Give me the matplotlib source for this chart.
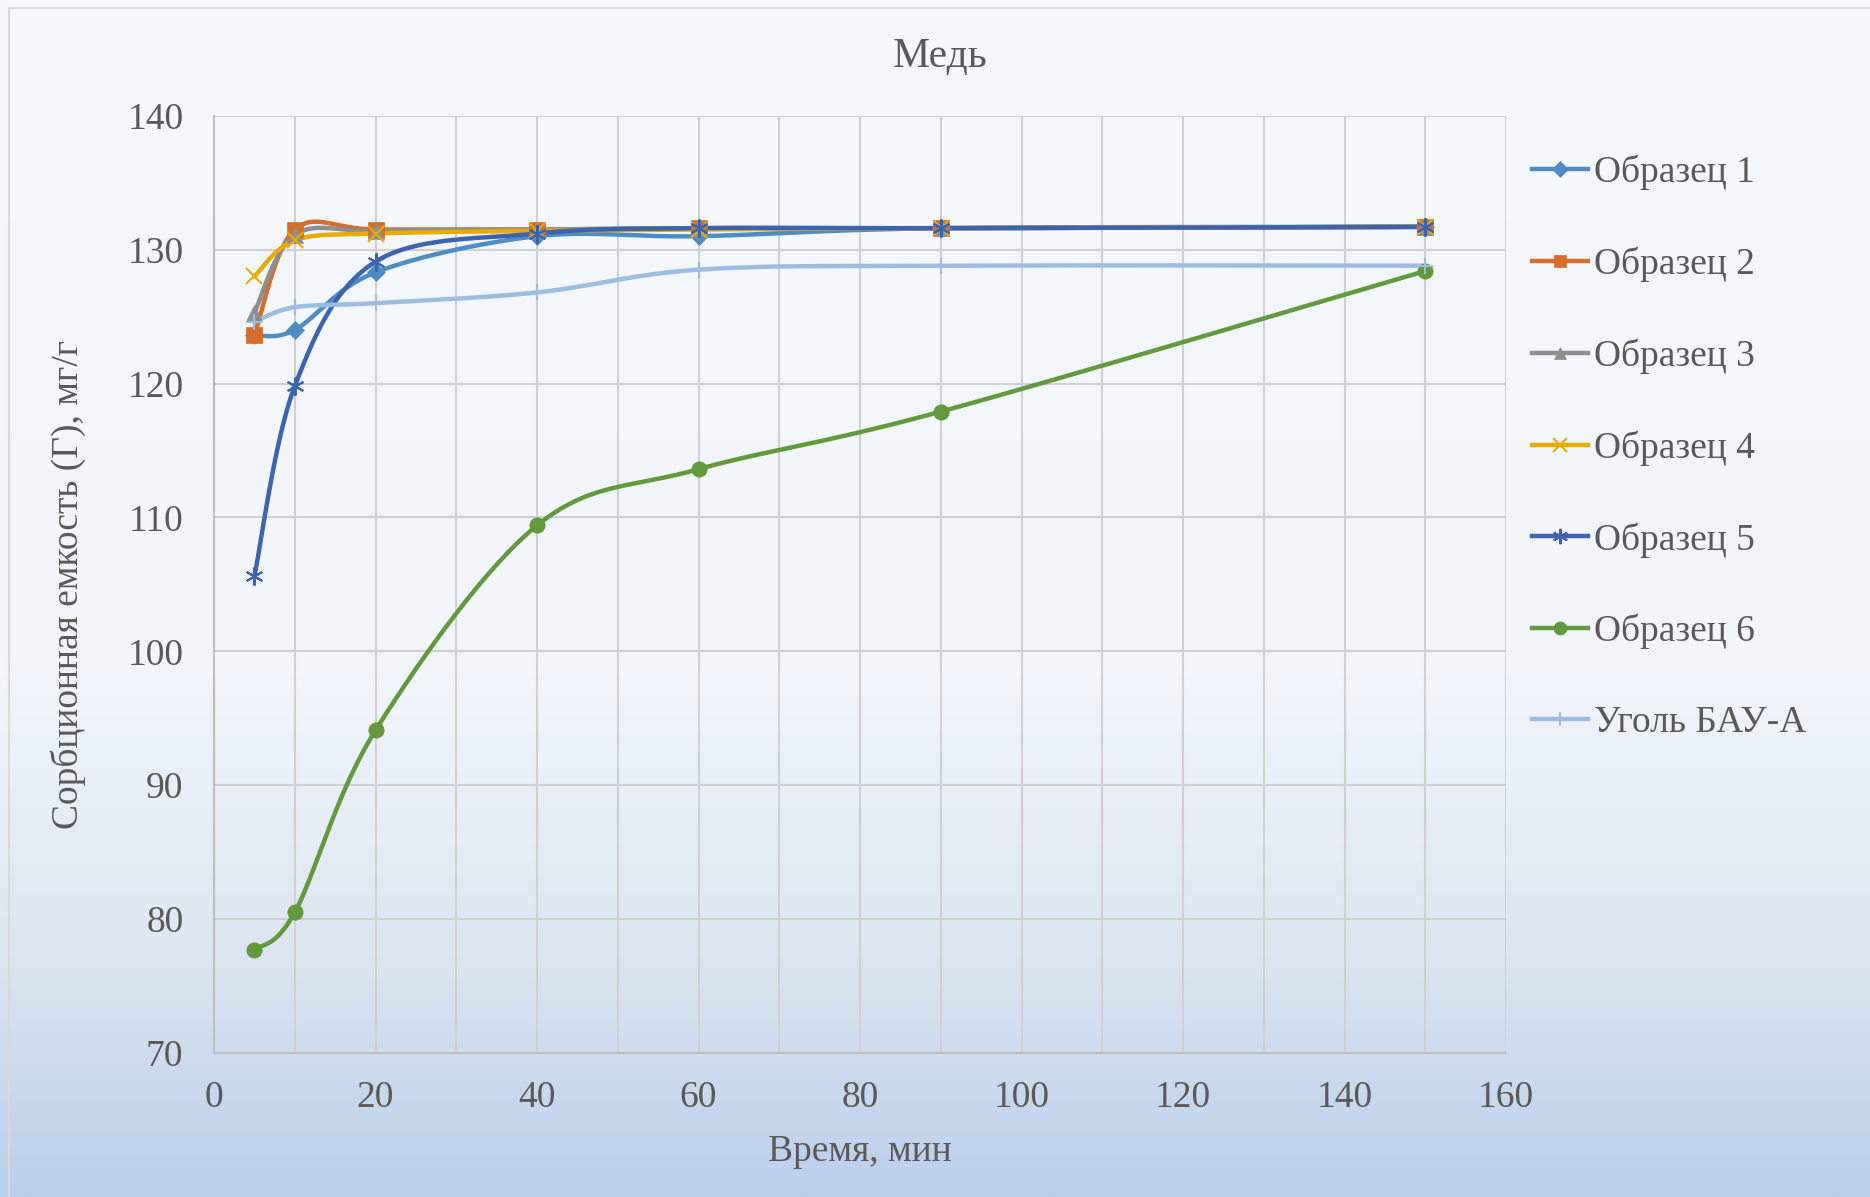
import matplotlib.pyplot as plt
import numpy as np
from matplotlib.patches import Rectangle
from matplotlib.lines import Line2D

# data
time_min = [5, 10, 20, 40, 60, 90, 150]
obr1 = [123.6, 124.0, 128.3, 131.0, 131.0, 131.6, 131.7]
obr2 = [123.6, 131.5, 131.5, 131.5, 131.6, 131.6, 131.7]
obr3 = [125.3, 131.1, 131.4, 131.5, 131.6, 131.6, 131.7]
obr4 = [128.0, 130.7, 131.2, 131.4, 131.5, 131.6, 131.7]
obr5 = [105.6, 119.8, 129.1, 131.2, 131.6, 131.6, 131.7]
obr6 = [77.7, 80.5, 94.1, 109.4, 113.6, 117.9, 128.4]
bau_a = [124.6, 125.7, 126.0, 126.8, 128.5, 128.8, 128.8]

labels = ['Образец 1', 'Образец 2', 'Образец 3', 'Образец 4',
          'Образец 5', 'Образец 6', 'Уголь БАУ-А']
series = [obr1, obr2, obr3, obr4, obr5, obr6, bau_a]
colors = ['#4e8cc4', '#d86c2a', '#8e8e8e', '#e6ac00', '#3a64b0', '#62993b', '#9bbde3']
markers = ['D', 's', '^', 'x', (6, 2, 0), 'o', '+']
msizes = [9, 11, 11, 12, 13, 11, 12]

W, H = 1870, 1197
plt.rcParams['font.family'] = ['Liberation Serif', 'DejaVu Serif']
txt = '#595959'

fig = plt.figure(figsize=(W / 100, H / 100), dpi=100)

# gradient background
bg = fig.add_axes([0, 0, 1, 1])
bg.set_zorder(0)
stops = [(0.0, (245, 249, 252)), (0.55, (242, 246, 251)),
         (0.8, (220, 230, 242)), (1.0, (184, 207, 233))]
yy = np.linspace(0, 1, 400)
grad = np.zeros((400, 1, 3))
for c in range(3):
    grad[:, 0, c] = np.interp(yy, [s[0] for s in stops], [s[1][c] for s in stops]) / 255
bg.imshow(grad, aspect='auto', extent=[0, 1, 0, 1], origin='upper')
bg.add_patch(Rectangle((9 / W, -0.1), 1.2, 1.1 - 8 / H, fill=False,
                       edgecolor='#d9d9d9', lw=1.5, clip_on=False))
bg.set_xlim(0, 1)
bg.set_ylim(0, 1)
bg.axis('off')

# plot area
L, R, T, B = 214, 1506, 115.7, 1053
ax = fig.add_axes([L / W, 1 - B / H, (R - L) / W, (B - T) / H])
ax.set_zorder(1)
ax.patch.set_alpha(0)
ax.set_xlim(0, 160)
ax.set_ylim(70, 140)

sx = (R - L) / 160
sy = (B - T) / 70


def smooth(x, y, n=60):
    # excel-like smoothed line (bezier, tension 1/6) in pixel space
    p = np.column_stack([np.asarray(x) * sx, np.asarray(y) * sy])
    out = []
    for i in range(len(p) - 1):
        p0 = p[i - 1] if i > 0 else p[i]
        p1, p2 = p[i], p[i + 1]
        p3 = p[i + 2] if i + 2 < len(p) else p[i + 1]
        c1 = p1 + (p2 - p0) / 6
        c2 = p2 - (p3 - p1) / 6
        t = np.linspace(0, 1, n)[:, None]
        seg = ((1 - t) ** 3) * p1 + 3 * ((1 - t) ** 2) * t * c1 + 3 * (1 - t) * t ** 2 * c2 + t ** 3 * p2
        out.append(seg if i == 0 else seg[1:])
    out = np.vstack(out)
    return out[:, 0] / sx, out[:, 1] / sy


handles = []
for vals, lab, col, mk, ms in zip(series, labels, colors, markers, msizes):
    xs, ys = smooth(time_min, vals)
    ax.plot(xs, ys, color=col, lw=3.2, solid_capstyle='round', zorder=3)
    mew = 1.5 if mk in ('x', '+') or isinstance(mk, tuple) else 0.5
    ax.plot(time_min, vals, linestyle='none', marker=mk, markersize=ms,
            color=col, markeredgecolor=col, mew=mew, zorder=4)
    handles.append(Line2D([0], [0], color=col, lw=3.2, marker=mk,
                          markersize=ms * 0.85, markeredgecolor=col, mew=mew))

ax.set_xticks(np.arange(0, 161, 20))
ax.set_xticks(np.arange(0, 161, 10), minor=True)
ax.set_yticks(np.arange(70, 141, 10))
ax.grid(True, which='both', color='#d0d0d0', lw=1.5, zorder=0)
ax.set_axisbelow(True)
for s in ax.spines.values():
    s.set_visible(False)
ax.spines['left'].set_visible(True)
ax.spines['bottom'].set_visible(True)
ax.spines['left'].set_color('#bfbfbf')
ax.spines['bottom'].set_color('#bfbfbf')
ax.spines['left'].set_linewidth(1.5)
ax.spines['bottom'].set_linewidth(1.5)
ax.tick_params(which='both', length=0, labelsize=27, labelcolor=txt)
ax.tick_params(axis='x', pad=20)
ax.tick_params(axis='y', pad=22)

ax.set_xlabel('Время, мин', fontsize=27, color=txt, labelpad=14)
ax.set_ylabel('Сорбционная емкость (Г), мг/г', fontsize=27, color=txt, labelpad=30)
fig.text(940 / W, 1 - 57 / H, 'Медь', fontsize=30, color=txt, ha='center', va='center')

leg = fig.legend(handles, labels, loc='upper left',
                 bbox_to_anchor=(1532 / W, 1 - 155 / H), frameon=False,
                 fontsize=27, handlelength=1.5, handletextpad=0.15,
                 labelspacing=1.5, borderpad=0, borderaxespad=0)
for t in leg.get_texts():
    t.set_color(txt)

fig.savefig('out.png', dpi=100)
